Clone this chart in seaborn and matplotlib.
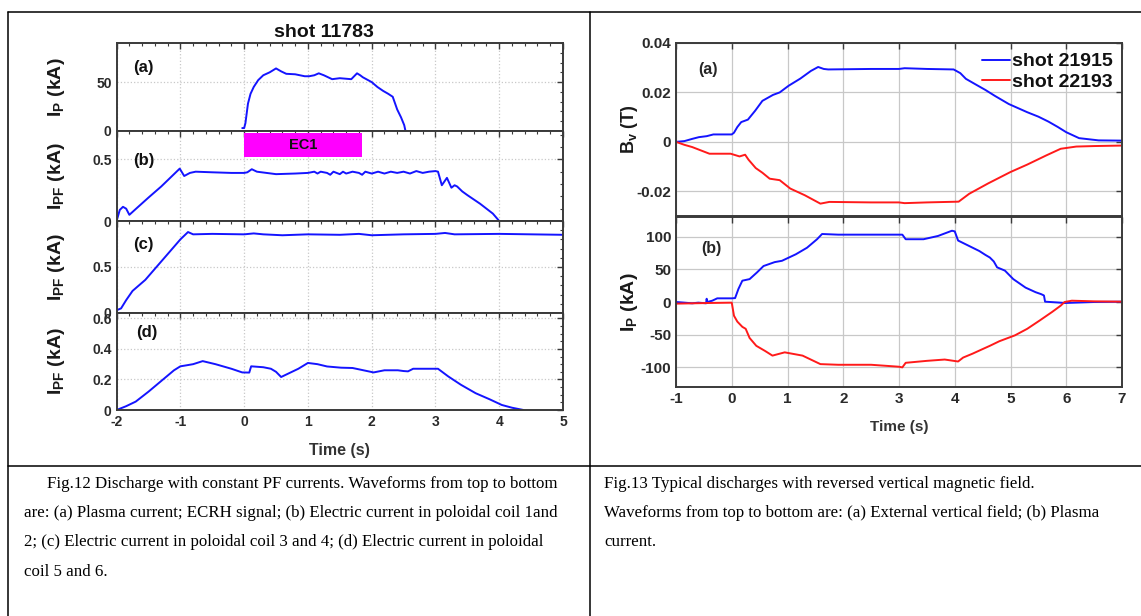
import numpy as np
import pandas as pd
import matplotlib.pyplot as plt
import seaborn as sns
from matplotlib.lines import Line2D
from matplotlib.patches import Rectangle
from matplotlib.ticker import MultipleLocator, AutoMinorLocator

# ---- Fig.12, shot 11783 ----
ip_t = [-0.03, 0.0, 0.02, 0.04, 0.06, 0.1, 0.15, 0.22, 0.3, 0.4, 0.5, 0.58, 0.66, 0.8, 0.95,
        1.02, 1.1, 1.17, 1.25, 1.38, 1.5, 1.68, 1.77, 1.82, 1.86, 2.0, 2.09, 2.18, 2.26, 2.33,
        2.4, 2.46, 2.51, 2.53, 2.6, 3.4]
ip_v = [3, 3, 8, 18, 28, 38, 45, 52, 57, 60, 64, 61, 58.5, 58, 56,
        56, 57, 59, 57, 53, 54, 53, 59, 57, 55, 50, 45, 41, 38, 35,
        22, 14, 6, 0, 0, 0]

pf12_t = [-2.0, -1.95, -1.9, -1.85, -1.8, -1.7, -1.5, -1.3, -1.1, -1.01, -0.94, -0.85,
          -0.76, -0.5, -0.2, 0.0, 0.05, 0.12, 0.2, 0.35, 0.5, 0.8, 1.0, 1.1, 1.15, 1.2,
          1.3, 1.35, 1.4, 1.5, 1.55, 1.6, 1.7, 1.8, 1.85, 1.9, 2.0, 2.1, 2.2, 2.3, 2.4,
          2.5, 2.6, 2.7, 2.8, 2.9, 3.0, 3.04, 3.1, 3.18, 3.25, 3.3, 3.34, 3.42, 3.5,
          3.7, 3.9, 4.0]
pf12_v = [0.0, 0.09, 0.115, 0.1, 0.05, 0.097, 0.19, 0.28, 0.38, 0.425, 0.365, 0.39,
          0.40, 0.395, 0.39, 0.39, 0.395, 0.42, 0.40, 0.39, 0.38, 0.385, 0.39, 0.40, 0.385, 0.40,
          0.39, 0.375, 0.40, 0.38, 0.40, 0.385, 0.40, 0.39, 0.375, 0.40, 0.385, 0.40, 0.385, 0.40, 0.39,
          0.40, 0.385, 0.405, 0.39, 0.40, 0.405, 0.40, 0.29, 0.35, 0.27, 0.29, 0.28, 0.24, 0.21,
          0.14, 0.06, 0.0]

pf34_t = [-2.0, -1.93, -1.85, -1.75, -1.65, -1.55, -1.4, -1.2, -1.0, -0.88, -0.8, -0.5, 0.0,
          0.15, 0.3, 0.6, 1.0, 1.5, 1.8, 2.0, 2.5, 3.0, 3.15, 3.3, 4.0, 5.0]
pf34_v = [0.03, 0.05, 0.14, 0.24, 0.30, 0.36, 0.48, 0.64, 0.80, 0.88, 0.855, 0.86, 0.855,
          0.865, 0.855, 0.845, 0.855, 0.85, 0.86, 0.845, 0.855, 0.86, 0.87, 0.855, 0.86, 0.85]

pf56_t = [-2.0, -1.85, -1.7, -1.5, -1.3, -1.1, -1.0, -0.94, -0.8, -0.65, -0.45, -0.2, -0.03,
          0.08, 0.11, 0.3, 0.42, 0.5, 0.58, 0.7, 0.85, 1.0, 1.15, 1.3, 1.52, 1.7, 2.03, 2.2,
          2.41, 2.5, 2.57, 2.65, 2.8, 3.04, 3.2, 3.4, 3.63, 3.85, 4.04, 4.2, 4.38]
pf56_v = [0.0, 0.025, 0.055, 0.12, 0.19, 0.26, 0.286, 0.29, 0.30, 0.32, 0.30, 0.27, 0.246,
          0.245, 0.286, 0.28, 0.27, 0.25, 0.216, 0.24, 0.27, 0.308, 0.30, 0.285, 0.277, 0.275, 0.246, 0.26,
          0.26, 0.255, 0.253, 0.27, 0.27, 0.27, 0.22, 0.165, 0.11, 0.07, 0.033, 0.015, 0.0]

ec1_start, ec1_end = 0.0, 1.85

# ---- Fig.13, shots 21915 / 22193 ----
bv1_t = [-1.0, -0.85, -0.71, -0.59, -0.45, -0.33, -0.1, 0.0, 0.04, 0.1, 0.17, 0.29, 0.42, 0.55,
         0.74, 0.86, 1.02, 1.23, 1.42, 1.55, 1.65, 1.73, 2.5, 3.0, 3.1, 3.5, 3.98, 4.1, 4.2,
         4.37, 4.55, 4.72, 4.97, 5.3, 5.5, 5.68, 5.85, 6.0, 6.23, 6.58, 7.0]
bv1_v = [0.0, 0.0003, 0.0012, 0.0019, 0.0023, 0.003, 0.003, 0.003, 0.0037, 0.006, 0.008, 0.009,
         0.0126, 0.0166, 0.019, 0.020, 0.0227, 0.0256, 0.0287, 0.0303, 0.0295, 0.0293, 0.0295,
         0.0295, 0.0298, 0.0295, 0.0293, 0.0278, 0.0255, 0.0233, 0.021, 0.0186, 0.0153, 0.012,
         0.0102, 0.0082, 0.006, 0.0039, 0.0015, 0.0006, 0.0005]

bv2_t = [-1.0, -0.85, -0.71, -0.4, -0.02, 0.14, 0.24, 0.3, 0.43, 0.55, 0.68, 0.86, 1.05, 1.31,
         1.59, 1.75, 2.5, 3.0, 3.1, 3.5, 4.07, 4.26, 4.6, 5.0, 5.3, 5.64, 5.9, 6.18, 6.5, 7.0]
bv2_v = [0.0, -0.0012, -0.0021, -0.0048, -0.0048, -0.0059, -0.0052, -0.0072, -0.0106, -0.0125,
         -0.0149, -0.0155, -0.0189, -0.0216, -0.025, -0.0243, -0.0245, -0.0245, -0.0248, -0.0245,
         -0.0242, -0.021, -0.0168, -0.0122, -0.0092, -0.0055, -0.0028, -0.0019, -0.0017, -0.0015]

ip1_t = [-1.0, -0.85, -0.71, -0.6, -0.46, -0.45, -0.44, -0.35, -0.26, 0.0, 0.06, 0.12, 0.19,
         0.32, 0.45, 0.57, 0.77, 0.9, 1.15, 1.35, 1.53, 1.62, 1.91, 2.5, 3.0, 3.06, 3.12, 3.44,
         3.7, 3.95, 4.0, 4.06, 4.25, 4.44, 4.55, 4.63, 4.7, 4.76, 4.9, 5.05, 5.27, 5.45, 5.55,
         5.6, 5.62, 5.98, 6.5, 7.0]
ip1_v = [0.0, -1, -2, -1, -2, 5, 0, 2, 5.6, 5.6, 6, 20, 32.6, 35, 45, 55, 61, 63, 73, 83, 96,
         104, 103, 103, 103, 103, 96, 96, 101, 109, 108, 94, 86, 78, 72, 68, 62, 53, 48, 35,
         22, 15, 12, 10, 0.5, -1.5, 0, 0.5]

ip2_t = [-1.0, -0.7, -0.4, 0.0, 0.04, 0.1, 0.19, 0.25, 0.32, 0.44, 0.6, 0.73, 0.95, 1.27, 1.59,
         1.91, 2.5, 3.0, 3.06, 3.12, 3.5, 3.82, 4.06, 4.15, 4.32, 4.5, 4.63, 4.8, 5.08, 5.3,
         5.52, 5.75, 5.9, 5.97, 6.1, 6.5, 7.0]
ip2_v = [-2.5, -2, -1.5, -1, -21, -30, -38, -41, -55, -67, -75, -82, -77, -82, -95, -96, -96,
         -99, -100, -93, -90, -88, -91, -85, -79, -72, -67, -60, -51, -41, -28.5, -15, -5.6, 0,
         2, 1, 0.5]

captions_left = ["Fig.12 Discharge with constant PF currents. Waveforms from top to bottom",
                 "are: (a) Plasma current; ECRH signal; (b) Electric current in poloidal coil 1and",
                 "2; (c) Electric current in poloidal coil 3 and 4; (d) Electric current in poloidal",
                 "coil 5 and 6."]
captions_right = ["Fig.13 Typical discharges with reversed vertical magnetic field.",
                  "Waveforms from top to bottom are: (a) External vertical field; (b) Plasma",
                  "current."]

sns.set_style("white")
plt.rcParams['font.family'] = ['Liberation Sans', 'DejaVu Sans']
plt.rcParams['font.weight'] = 'bold'
plt.rcParams['axes.unicode_minus'] = False
plt.rcParams['mathtext.fontset'] = 'custom'
plt.rcParams['mathtext.rm'] = 'Liberation Sans:bold'
plt.rcParams['mathtext.it'] = 'Liberation Sans:bold'
plt.rcParams['mathtext.bf'] = 'Liberation Sans:bold'

W, H = 1141, 616
fig = plt.figure(figsize=(W / 100, H / 100), dpi=100)


def px_axes(x0, x1, y0, y1):
    return fig.add_axes([x0 / W, 1 - y1 / H, (x1 - x0) / W, (y1 - y0) / H])


BLUE = "#1414ff"
RED = "#ff1a1a"
SPINE = "#3a3a3a"


def style(ax, grid_ls, minor, size):
    for s in ax.spines.values():
        s.set_color(SPINE)
        s.set_linewidth(1.4)
    ax.tick_params(which='both', direction='in', top=True, right=True,
                   colors=SPINE, labelcolor="#2a2a2a", labelsize=size)
    ax.tick_params(which='major', length=4, width=1)
    ax.tick_params(which='minor', length=2, width=0.8)
    if minor:
        ax.xaxis.set_minor_locator(MultipleLocator(0.2))
        ax.yaxis.set_minor_locator(AutoMinorLocator())
    ax.grid(True, which='major', color="#c8c8c8", linestyle=grid_ls, linewidth=0.9)
    for lab in ax.get_xticklabels() + ax.get_yticklabels():
        lab.set_fontweight('bold')


# ---- left panel ----
lx0, lx1 = 116.6, 563
rows = [(43, 131), (131, 221), (221, 313), (313, 410)]
left_axes = [px_axes(lx0, lx1, a, b) for a, b in rows]
series = [(ip_t, ip_v), (pf12_t, pf12_v), (pf34_t, pf34_v), (pf56_t, pf56_v)]
ylims = [(0, 90), (0, 0.73), (0, 1.0), (0, 0.635)]
yticks = [[0, 50], [0, 0.5], [0, 0.5], [0, 0.2, 0.4, 0.6]]
ylabels = [r"$\mathbf{I_P}$ (kA)", r"$\mathbf{I_{PF}}$ (kA)",
           r"$\mathbf{I_{PF}}$ (kA)", r"$\mathbf{I_{PF}}$ (kA)"]
tags = ["(a)", "(b)", "(c)", "(d)"]
tag_pos = [(-1.58, 65), (-1.58, 0.49), (-1.58, 0.74), (-1.52, 0.51)]

for i, ax in enumerate(left_axes):
    t, v = series[i]
    sns.lineplot(x=t, y=v, ax=ax, color=BLUE, linewidth=1.4)
    ax.set_xlim(-2, 5)
    ax.set_ylim(*ylims[i])
    ax.set_xticks(range(-2, 6))
    ax.set_yticks(yticks[i])
    ax.set_yticklabels([f"{y:g}" for y in yticks[i]])
    if i < 3:
        ax.set_xticklabels([])
    style(ax, ':', True, 10)
    ax.set_ylabel(ylabels[i], fontsize=14, fontweight='bold', color="#1a1a1a")
    ax.yaxis.set_label_coords(-0.11, 0.5)
    ax.text(*tag_pos[i], tags[i], fontsize=12, fontweight='bold', color="#111111",
            ha='center', va='center')

left_axes[0].set_title("shot 11783", fontsize=14, fontweight='bold', color="#111111",
                       pad=4, x=0.465)
left_axes[3].set_xlabel("Time (s)", fontsize=11.5, fontweight='bold', color="#333333", labelpad=10)

axb = left_axes[1]
axb.add_patch(Rectangle((ec1_start, 0.52), ec1_end - ec1_start, 0.19,
                        facecolor="#ff00ff", edgecolor='none', zorder=4, clip_on=False))
axb.text((ec1_start + ec1_end) / 2, 0.615, "EC1", fontsize=10.5, fontweight='bold',
         ha='center', va='center', color="#111111", zorder=5)

# ---- right panel ----
rx0, rx1 = 676, 1122
ax_a = px_axes(rx0, rx1, 43, 216)
ax_b = px_axes(rx0, rx1, 217, 387)

sns.lineplot(x=bv1_t, y=bv1_v, ax=ax_a, color=BLUE, linewidth=1.4, label="shot 21915")
sns.lineplot(x=bv2_t, y=bv2_v, ax=ax_a, color=RED, linewidth=1.4, label="shot 22193")
sns.lineplot(x=ip1_t, y=ip1_v, ax=ax_b, color=BLUE, linewidth=1.4)
sns.lineplot(x=ip2_t, y=ip2_v, ax=ax_b, color=RED, linewidth=1.4)

ax_a.set_ylim(-0.03, 0.04)
ax_a.set_yticks([-0.02, 0, 0.02, 0.04])
ax_a.set_yticklabels(["-0.02", "0", "0.02", "0.04"])
ax_b.set_ylim(-130, 130)
ax_b.set_yticks([-100, -50, 0, 50, 100])
ax_b.set_yticklabels(["-100", "-50", "0", "50", "100"])
for ax in (ax_a, ax_b):
    ax.set_xlim(-1, 7)
    ax.set_xticks(range(-1, 8))
ax_a.set_xticklabels([])
ax_b.set_xticklabels([str(x) for x in range(-1, 8)])
style(ax_a, '-', False, 11)
style(ax_b, '-', False, 11)

ax_a.set_ylabel(r"$\mathbf{B_v}$ (T)", fontsize=13, fontweight='bold', color="#1a1a1a")
ax_b.set_ylabel(r"$\mathbf{I_P}$ (kA)", fontsize=14, fontweight='bold', color="#1a1a1a")
ax_a.yaxis.set_label_coords(-0.08, 0.5)
ax_b.yaxis.set_label_coords(-0.08, 0.5)
ax_b.set_xlabel("Time (s)", fontsize=11, fontweight='bold', color="#333333", labelpad=10)
ax_a.text(-0.43, 0.0294, "(a)", fontsize=11.5, fontweight='bold', ha='center', va='center')
ax_b.text(-0.37, 82, "(b)", fontsize=11.5, fontweight='bold', ha='center', va='center')

leg = ax_a.legend(loc='upper right', frameon=False, fontsize=14, handlelength=1.4,
                  handletextpad=0.1, borderaxespad=0.1, labelspacing=0.15)
for txt in leg.get_texts():
    txt.set_fontweight('bold')
    txt.set_color("#111111")

# ---- table borders ----
def hline(y, x0, x1):
    fig.add_artist(Line2D([x0 / W, x1 / W], [1 - y / H, 1 - y / H], color='black', lw=1.1))


def vline(x, y0, y1):
    fig.add_artist(Line2D([x / W, x / W], [1 - y0 / H, 1 - y1 / H], color='black', lw=1.1))


hline(11.5, 8, W)
hline(466, 8, W)
vline(8, 11.5, H)
vline(590, 11.5, H)

# ---- captions ----
cap_font = dict(family=['Liberation Serif', 'DejaVu Serif'], fontsize=12.2, fontweight='normal',
                color='black', va='center', ha='left')
ys = [484, 513, 542, 572]
for j, line in enumerate(captions_left):
    x = 47 if j == 0 else 24
    fig.text(x / W, 1 - ys[j] / H, line, **cap_font)
for j, line in enumerate(captions_right):
    fig.text(604 / W, 1 - ys[j] / H, line, **cap_font)

fig.savefig("out.png", dpi=100)
